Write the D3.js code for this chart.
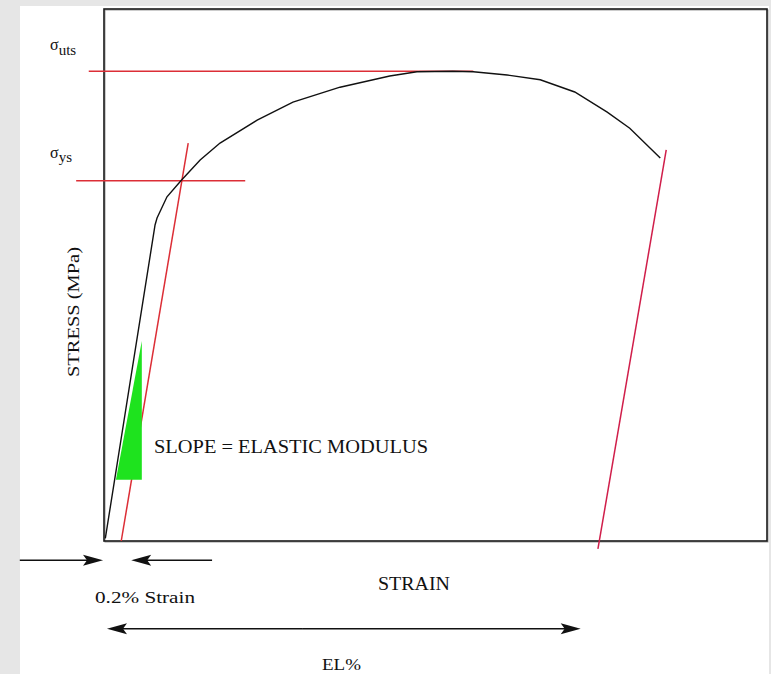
<!DOCTYPE html>
<html>
<head>
<meta charset="utf-8">
<script src="https://cdn.jsdelivr.net/npm/d3@7/dist/d3.min.js"></script>
<style>
  html, body { margin: 0; padding: 0; background: #e6e6e6; }
  svg { display: block; }
  .lbl { font-family: "Liberation Serif", "DejaVu Serif", serif; fill: #111; }
</style>
</head>
<body>
<div id="chart"></div>
<script>
// stress-strain curve, both axes in percent of the plot box
var curveStrain = [0.2, 7.7, 8.0, 9.5, 11.6, 14.5, 17.5, 23.1, 28.5, 35.6, 43.1, 47.2, 52.6, 55.7, 60.8, 65.8, 71.0, 75.9, 79.3, 83.9];
var curveStress = [0.5, 59.4, 60.7, 64.7, 67.7, 71.6, 74.8, 79.1, 82.5, 85.3, 87.4, 88.2, 88.3, 88.2, 87.6, 86.7, 84.4, 80.6, 77.6, 72.0];

// red construction lines [x1, y1, x2, y2]
var utsLine = [-2.3, 88.3, 55.7, 88.3];
var ysLine = [-4.2, 67.7, 21.3, 67.7];
var offsetLine = [2.6, 0, 12.7, 74.8];
var fractureLine = [74.5, -1.5, 84.8, 73.5];

// green slope triangle
var slopeX = [1.8, 5.7, 5.7];
var slopeY = [11.5, 11.5, 37.6];

var width = 771, height = 674;
var box = {left: 104, right: 767, top: 9, bottom: 541};

var svg = d3.select("#chart").append("svg")
  .attr("width", width)
  .attr("height", height);

// page background (grey edges, white sheet)
svg.append("rect").attr("x", 0).attr("y", 0).attr("width", width).attr("height", height).attr("fill", "#e6e6e6");
svg.append("rect").attr("x", 20).attr("y", 6).attr("width", 749).attr("height", height - 6).attr("fill", "#fff");

var xScale = d3.scaleLinear().domain([0, 100]).range([box.left, box.right]);
var yScale = d3.scaleLinear().domain([0, 100]).range([box.bottom, box.top]);

// plot frame
svg.append("rect")
  .attr("x", box.left + 1).attr("y", box.top + 1)
  .attr("width", box.right - box.left).attr("height", box.bottom - box.top)
  .attr("fill", "none").attr("stroke", "#999").attr("stroke-width", 1);
svg.append("rect")
  .attr("x", box.left).attr("y", box.top)
  .attr("width", box.right - box.left).attr("height", box.bottom - box.top)
  .attr("fill", "none").attr("stroke", "#1a1a1a").attr("stroke-width", 1.6);

// red lines
[utsLine, ysLine, offsetLine].forEach(function(l) {
  svg.append("line")
    .attr("x1", xScale(l[0])).attr("y1", yScale(l[1]))
    .attr("x2", xScale(l[2])).attr("y2", yScale(l[3]))
    .attr("stroke", "#dc2e36").attr("stroke-width", 1.5);
});
svg.append("line")
  .attr("x1", xScale(fractureLine[0])).attr("y1", yScale(fractureLine[1]))
  .attr("x2", xScale(fractureLine[2])).attr("y2", yScale(fractureLine[3]))
  .attr("stroke", "#d01e4a").attr("stroke-width", 1.5);

// green triangle (covers the offset line)
var tri = slopeX.map(function(d, i) { return [xScale(d), yScale(slopeY[i])]; });
svg.append("polygon")
  .attr("points", tri.map(function(p) { return p.join(","); }).join(" "))
  .attr("fill", "#1ee31e");

// curve
var curveData = curveStrain.map(function(d, i) { return [d, curveStress[i]]; });
var line = d3.line()
  .x(function(d) { return xScale(d[0]); })
  .y(function(d) { return yScale(d[1]); });
svg.append("path")
  .datum(curveData)
  .attr("d", line)
  .attr("fill", "none")
  .attr("stroke", "#111")
  .attr("stroke-width", 1.4);

// arrows: [xFrom, xTo, y] with head at xTo
var arrows = [
  [-12.7, -0.15, -3.6],
  [16.3, 4.1, -3.6],
  [30, 0.45, -16.5],
  [30, 71.9, -16.5]
];
arrows.forEach(function(a) {
  var x0 = xScale(a[0]), x1 = xScale(a[1]), y = yScale(a[2]);
  var dir = x1 > x0 ? 1 : -1;
  svg.append("line")
    .attr("x1", x0).attr("y1", y).attr("x2", x1 - dir * 10).attr("y2", y)
    .attr("stroke", "#111").attr("stroke-width", 1.5);
  svg.append("path")
    .attr("d", "M" + x1 + "," + y + "L" + (x1 - dir * 20) + "," + (y - 5.5) +
               "L" + (x1 - dir * 16) + "," + y + "L" + (x1 - dir * 20) + "," + (y + 5.5) + "Z")
    .attr("fill", "#111");
});

// labels
function label(txt, x, y, size, len) {
  var t = svg.append("text").attr("class", "lbl")
    .attr("x", x).attr("y", y).attr("font-size", size).text(txt);
  if (len) t.attr("textLength", len).attr("lengthAdjust", "spacingAndGlyphs");
  return t;
}

var uts = svg.append("text").attr("class", "lbl").attr("x", 50).attr("y", 50).attr("font-size", 16);
uts.append("tspan").text("σ");
uts.append("tspan").attr("font-size", 15).attr("dy", 5).text("uts");

var ys = svg.append("text").attr("class", "lbl").attr("x", 50).attr("y", 158).attr("font-size", 16);
ys.append("tspan").text("σ");
ys.append("tspan").attr("font-size", 15).attr("dy", 4).text("ys");

label("SLOPE = ELASTIC MODULUS", 154, 453, 18.5, 274);
label("STRAIN", 378, 590, 18, 72);
label("0.2% Strain", 95, 603, 17, 100);
label("EL%", 322, 670, 17, 39);

svg.append("text").attr("class", "lbl")
  .attr("transform", "translate(79,312) rotate(-90)")
  .attr("text-anchor", "middle")
  .attr("font-size", 17)
  .attr("textLength", 130).attr("lengthAdjust", "spacingAndGlyphs")
  .text("STRESS (MPa)");
</script>
</body>
</html>
